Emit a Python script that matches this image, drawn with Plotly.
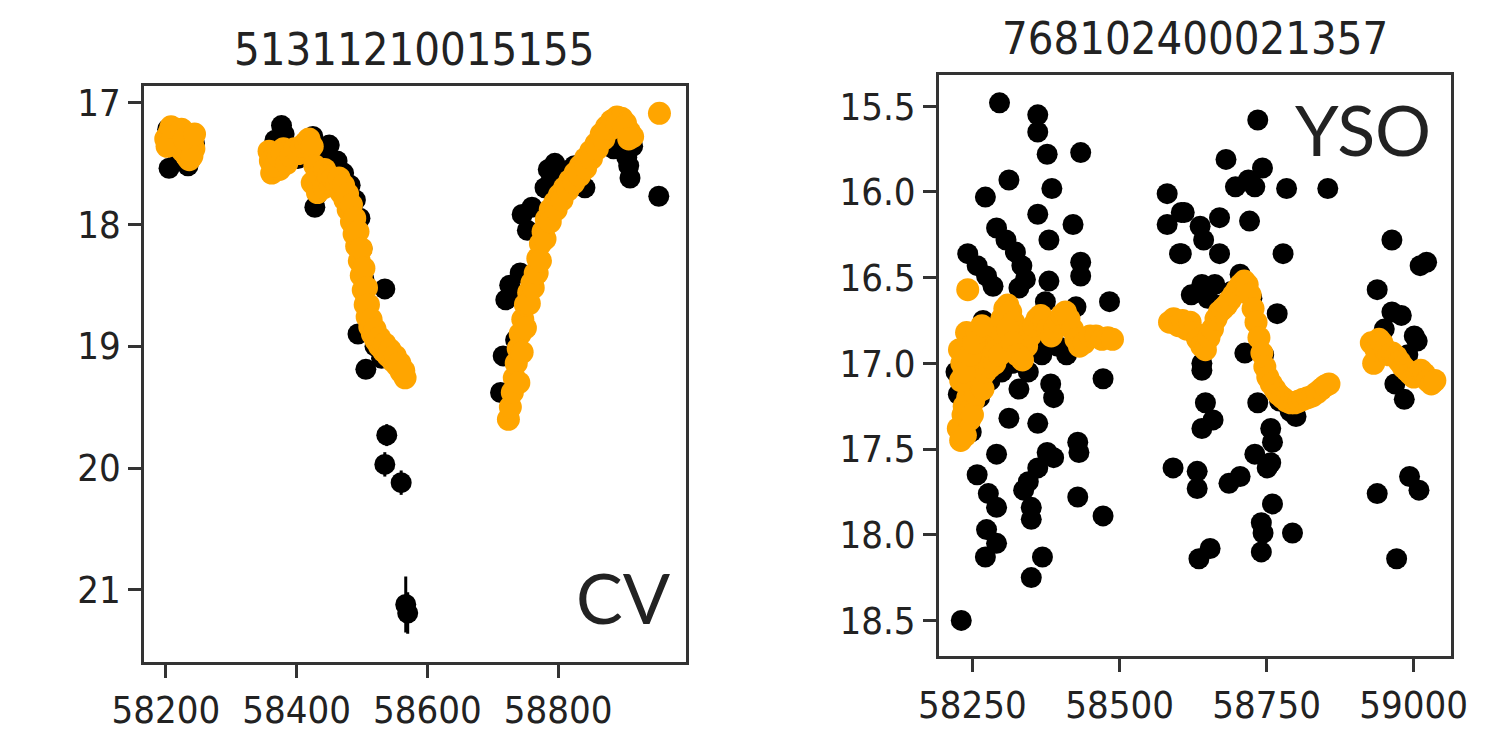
import plotly.graph_objects as go

# ---- CV light curve: 51311210015155 ----
cv_title = "51311210015155"
cv_label = "CV"

# ZTF-like photometry (mjd, mag, err)
cv_black = [
    (58203, 17.22, 0.03), (58205, 17.54, 0.03), (58210, 17.30, 0.03), (58216, 17.40, 0.03),
    (58222, 17.28, 0.03), (58228, 17.36, 0.03), (58234, 17.52, 0.03), (58240, 17.42, 0.03),
    (58244, 17.34, 0.03),
    (58362, 17.50, 0.03), (58367, 17.31, 0.03), (58372, 17.40, 0.03), (58377, 17.19, 0.03),
    (58381, 17.26, 0.03), (58388, 17.45, 0.03), (58395, 17.40, 0.03), (58402, 17.46, 0.03),
    (58410, 17.38, 0.03), (58418, 17.34, 0.03), (58425, 17.28, 0.03), (58428, 17.86, 0.04),
    (58432, 17.75, 0.04), (58438, 17.40, 0.03), (58450, 17.35, 0.03), (58462, 17.48, 0.03),
    (58472, 17.58, 0.03), (58482, 17.68, 0.04), (58490, 17.80, 0.04), (58497, 17.95, 0.04),
    (58500, 18.20, 0.05), (58503, 18.45, 0.05), (58494, 18.90, 0.06), (58506, 19.19, 0.07),
    (58512, 18.86, 0.06), (58520, 19.00, 0.06), (58535, 18.53, 0.05), (58530, 19.10, 0.07),
    (58538, 19.73, 0.09), (58535, 19.97, 0.10), (58560, 20.12, 0.10), (58567, 21.12, 0.23),
    (58570, 21.19, 0.17),
    (58712, 19.38, 0.07), (58716, 19.08, 0.06), (58720, 18.62, 0.05), (58726, 18.50, 0.05),
    (58729, 18.55, 0.05), (58735, 18.95, 0.06), (58742, 18.40, 0.05), (58745, 17.92, 0.04),
    (58753, 18.05, 0.04), (58760, 17.86, 0.04), (58780, 17.70, 0.04), (58785, 17.55, 0.04),
    (58790, 17.62, 0.04), (58795, 17.50, 0.04), (58812, 17.56, 0.04), (58825, 17.52, 0.04),
    (58841, 17.70, 0.04), (58850, 17.45, 0.03), (58865, 17.33, 0.03), (58878, 17.30, 0.03),
    (58885, 17.38, 0.03), (58895, 17.30, 0.03), (58905, 17.45, 0.03), (58908, 17.52, 0.03),
    (58910, 17.62, 0.03), (58914, 17.36, 0.03), (58954, 17.77, 0.04),
]

# second survey (mjd, mag)
cv_orange = [
    (58200, 17.30), (58205, 17.25), (58210, 17.35), (58214, 17.28), (58218, 17.22),
    (58222, 17.32), (58226, 17.40), (58230, 17.27), (58234, 17.36), (58238, 17.45),
    (58241, 17.30), (58243, 17.38), (58202, 17.36), (58208, 17.20), (58224, 17.22),
    (58232, 17.44), (58236, 17.47), (58240, 17.44), (58228, 17.30), (58244, 17.26),
    (58358, 17.40), (58362, 17.58), (58368, 17.42), (58374, 17.55), (58380, 17.38),
    (58384, 17.48),
    (58360, 17.48), (58366, 17.52), (58372, 17.44), (58378, 17.42), (58385, 17.50),
    (58391, 17.44), (58397, 17.38), (58403, 17.42), (58408, 17.36), (58414, 17.33),
    (58419, 17.30), (58424, 17.36), (58428, 17.52), (58432, 17.62), (58437, 17.58),
    (58424, 17.66), (58432, 17.74), (58442, 17.70), (58450, 17.66),
    (58443, 17.55), (58449, 17.60), (58455, 17.62), (58462, 17.68), (58468, 17.74),
    (58474, 17.80), (58479, 17.88), (58484, 17.98), (58488, 18.08), (58492, 18.18),
    (58496, 18.30), (58499, 18.42), (58502, 18.54), (58505, 18.66), (58508, 18.76),
    (58512, 18.84), (58516, 18.90), (58521, 18.95), (58527, 19.00), (58533, 19.04),
    (58540, 19.08), (58547, 19.12), (58554, 19.16), (58560, 19.21), (58566, 19.26),
    (58465, 17.62), (58472, 17.68), (58478, 17.75), (58484, 17.84), (58489, 17.95),
    (58494, 18.06), (58499, 18.20), (58503, 18.36), (58507, 18.52), (58510, 18.66),
    (58514, 18.78), (58520, 18.86), (58527, 18.93), (58535, 18.98), (58543, 19.03),
    (58551, 19.08), (58558, 19.14), (58564, 19.20),
    (58724, 19.60), (58727, 19.50), (58730, 19.38), (58733, 19.26), (58736, 19.14),
    (58739, 19.02), (58742, 18.90), (58746, 18.78), (58750, 18.66), (58755, 18.56),
    (58760, 18.48), (58765, 18.40), (58769, 18.28), (58773, 18.16), (58777, 18.06),
    (58782, 17.96), (58788, 17.88), (58795, 17.82), (58802, 17.76), (58810, 17.70),
    (58818, 17.64), (58826, 17.58), (58834, 17.52), (58842, 17.46), (58850, 17.40),
    (58858, 17.34), (58866, 17.26), (58874, 17.20), (58882, 17.15), (58890, 17.12),
    (58897, 17.13), (58903, 17.17), (58909, 17.24), (58914, 17.28), (58955, 17.09),
    (58740, 19.30), (58745, 19.05), (58750, 18.85), (58756, 18.65), (58762, 18.52),
    (58768, 18.40), (58773, 18.30), (58780, 18.12), (58788, 17.98), (58797, 17.88),
    (58806, 17.80), (58815, 17.72), (58824, 17.66), (58833, 17.60), (58842, 17.54),
    (58851, 17.46), (58860, 17.38), (58870, 17.30), (58880, 17.22), (58890, 17.18),
    (58900, 17.20), (58908, 17.30),
]

cv_xticks = [58200, 58400, 58600, 58800]
cv_yticks = [17, 18, 19, 20, 21]

# ---- YSO light curve: 768102400021357 ----
yso_title = "768102400021357"
yso_label = "YSO"

yso_black = [
    (58231, 18.50), (58242, 16.36), (58258, 16.43), (58274, 16.49), (58285, 16.55),
    (58268, 16.75), (58272, 16.03), (58291, 16.21), (58307, 16.28), (58323, 16.35),
    (58334, 16.43), (58340, 16.51), (58329, 16.56), (58296, 15.48), (58312, 15.93),
    (58361, 15.55), (58361, 15.65), (58377, 15.78), (58434, 15.77), (58385, 15.98),
    (58361, 16.13), (58421, 16.19), (58380, 16.28), (58434, 16.41), (58434, 16.49),
    (58380, 16.52), (58483, 16.64), (58374, 16.64), (58426, 16.67), (58472, 17.09),
    (58388, 17.20), (58383, 17.12), (58361, 17.35), (58429, 17.46), (58431, 17.52),
    (58377, 17.52), (58388, 17.55), (58361, 17.61), (58345, 17.69), (58337, 17.74),
    (58350, 17.84), (58350, 17.91), (58429, 17.78), (58472, 17.89), (58369, 18.13),
    (58350, 18.25), (58291, 17.53), (58258, 17.65), (58277, 17.76), (58291, 17.84),
    (58274, 17.97), (58291, 18.05), (58272, 18.13), (58312, 17.32), (58329, 17.15),
    (58250, 17.00), (58262, 17.20), (58280, 17.10), (58300, 17.05), (58318, 17.00),
    (58330, 16.95), (58345, 17.05), (58356, 16.90), (58368, 16.95), (58395, 16.90),
    (58410, 16.95), (58300, 16.85), (58240, 17.25), (58248, 17.40), (58222, 17.05),
    (58226, 17.18),
    (58581, 16.01), (58605, 16.12), (58581, 16.19), (58602, 16.36), (58591, 17.61),
    (58610, 16.12), (58637, 16.20), (58643, 16.28), (58670, 16.15), (58721, 16.17),
    (58605, 16.36), (58670, 16.36), (58778, 16.36), (58735, 15.58), (58681, 15.81),
    (58743, 15.86), (58697, 15.97), (58719, 15.93), (58730, 15.97), (58784, 15.98),
    (58854, 15.98), (58640, 16.54), (58662, 16.54), (58705, 16.48), (58768, 16.71),
    (58640, 17.00), (58713, 16.94), (58640, 17.04), (58646, 17.23), (58659, 17.33),
    (58640, 17.38), (58632, 17.63), (58632, 17.73), (58686, 17.70), (58705, 17.66),
    (58730, 17.53), (58751, 17.61), (58757, 17.38), (58760, 17.46), (58757, 17.58),
    (58760, 17.82), (58741, 17.93), (58744, 17.99), (58741, 18.10), (58794, 17.99),
    (58635, 18.14), (58654, 18.08), (58735, 17.23), (58800, 17.31), (58622, 16.60),
    (58650, 16.62), (58672, 16.66), (58690, 16.58), (58725, 16.62), (58745, 16.95),
    (58755, 17.10), (58772, 17.22), (58790, 17.28),
    (58963, 16.28), (59022, 16.41), (59011, 16.43), (58938, 16.57), (58963, 16.70),
    (58979, 16.72), (59001, 16.84), (58938, 17.76), (58993, 17.66), (59009, 17.74),
    (58971, 18.14), (58984, 17.21), (58968, 17.12), (59006, 16.87), (58950, 16.80),
    (58990, 16.95),
]

yso_orange = [
    (58226, 17.38), (58230, 17.45), (58234, 17.30), (58238, 17.42), (58242, 17.20),
    (58245, 17.33), (58248, 17.12), (58252, 17.22), (58255, 17.05), (58259, 17.15),
    (58262, 17.00), (58266, 17.08), (58270, 16.95), (58274, 17.02), (58278, 16.90),
    (58283, 16.98), (58287, 16.85), (58291, 16.92), (58295, 16.80), (58300, 16.74),
    (58305, 16.68), (58310, 16.66), (58315, 16.70), (58320, 16.76), (58325, 16.82),
    (58330, 16.88), (58336, 16.92), (58342, 16.90), (58348, 16.84), (58354, 16.78),
    (58360, 16.74), (58366, 16.72), (58372, 16.75), (58378, 16.80), (58384, 16.84),
    (58390, 16.80), (58396, 16.76), (58402, 16.72), (58408, 16.70), (58414, 16.74),
    (58420, 16.80), (58426, 16.86), (58432, 16.90), (58440, 16.88), (58450, 16.84),
    (58460, 16.84), (58470, 16.86), (58480, 16.85), (58488, 16.86), (58242, 16.57),
    (58240, 16.82), (58238, 16.92), (58232, 17.00),
    (58236, 17.25), (58244, 17.28), (58250, 17.30), (58256, 17.18), (58262, 17.12),
    (58268, 17.15), (58272, 17.05), (58280, 17.02), (58288, 17.00), (58296, 16.95),
    (58230, 17.10), (58236, 17.05), (58228, 16.92), (58246, 16.95), (58252, 16.88),
    (58258, 16.82), (58266, 16.78), (58310, 16.80), (58318, 16.88), (58326, 16.95),
    (58335, 16.98),
    (58585, 16.76), (58592, 16.74), (58600, 16.78), (58607, 16.75), (58614, 16.80),
    (58620, 16.76), (58627, 16.82), (58633, 16.86), (58640, 16.90), (58646, 16.92),
    (58652, 16.85), (58658, 16.80), (58664, 16.74), (58670, 16.70), (58676, 16.68),
    (58682, 16.66), (58688, 16.63), (58694, 16.60), (58700, 16.57), (58706, 16.54),
    (58712, 16.52), (58717, 16.54), (58722, 16.60), (58727, 16.68), (58732, 16.76),
    (58737, 16.85), (58742, 16.94), (58747, 17.02), (58752, 17.08), (58758, 17.12),
    (58764, 17.15), (58770, 17.18), (58777, 17.20), (58784, 17.22), (58791, 17.23),
    (58798, 17.23), (58805, 17.22), (58812, 17.21), (58820, 17.20), (58828, 17.19),
    (58836, 17.17), (58843, 17.15), (58850, 17.13), (58856, 17.12),
    (58928, 16.88), (58932, 17.00), (58936, 16.92), (58941, 16.86), (58946, 16.88),
    (58952, 16.92), (58958, 16.95), (58964, 16.94), (58970, 16.96), (58976, 16.99),
    (58982, 17.02), (58988, 17.04), (58994, 17.06), (59000, 17.08), (59006, 17.06),
    (59012, 17.04), (59018, 17.06), (59024, 17.10), (59030, 17.12), (59036, 17.10),
]

yso_xticks = [58250, 58500, 58750, 59000]
yso_yticks = [15.5, 16.0, 16.5, 17.0, 17.5, 18.0, 18.5]

W, H = 1507, 732
TICK_FONT = dict(family="DejaVu Sans Condensed, DejaVu Sans", size=38, color="#222")
TITLE_FONT = dict(family="DejaVu Sans Condensed, DejaVu Sans", size=45, color="#222")
LABEL_FONT = dict(family="Lato, Open Sans, sans-serif", size=70, color="#222")
BLACK = "#000000"
ORANGE = "#FFA500"
MSIZE = 21


def cols(rows):
    return [list(c) for c in zip(*rows)]


fig = go.Figure()

bx, by, be = cols(cv_black)
ox, oy = cols(cv_orange)
fig.add_trace(go.Scatter(
    x=bx, y=by, mode="markers", xaxis="x", yaxis="y",
    marker=dict(size=MSIZE, color=BLACK, line=dict(width=0)),
    error_y=dict(type="data", array=be, color=BLACK, thickness=3, width=0),
))
fig.add_trace(go.Scatter(
    x=ox, y=oy, mode="markers", xaxis="x", yaxis="y",
    marker=dict(size=MSIZE + 2, color=ORANGE, line=dict(width=0)),
))

bx2, by2 = cols(yso_black)
ox2, oy2 = cols(yso_orange)
fig.add_trace(go.Scatter(
    x=bx2, y=by2, mode="markers", xaxis="x2", yaxis="y2",
    marker=dict(size=MSIZE, color=BLACK, line=dict(width=0)),
))
fig.add_trace(go.Scatter(
    x=ox2, y=oy2, mode="markers", xaxis="x2", yaxis="y2",
    marker=dict(size=MSIZE + 2, color=ORANGE, line=dict(width=0)),
))


def axis_style(**kw):
    base = dict(
        showgrid=False, zeroline=False, showline=True, mirror=True,
        linecolor="#333", linewidth=2.5,
        ticks="outside", ticklen=13, tickwidth=2.5, tickcolor="#333",
        tickfont=TICK_FONT,
    )
    base.update(kw)
    return base


def px_x(p):
    return p / W


def px_y(p):
    return 1 - p / H


fig.update_layout(
    width=W, height=H,
    margin=dict(l=0, r=0, t=0, b=0),
    paper_bgcolor="white", plot_bgcolor="white",
    showlegend=False,
    xaxis=axis_style(domain=[px_x(115), px_x(675)], range=[58167, 58995],
                     tickvals=cv_xticks, ticktext=[str(v) for v in cv_xticks],
                     anchor="y"),
    yaxis=axis_style(domain=[px_y(671.5), px_y(83)], range=[21.59, 16.867],
                     tickvals=cv_yticks, ticktext=[str(v) for v in cv_yticks],
                     anchor="x"),
    xaxis2=axis_style(domain=[px_x(937), px_x(1467)], range=[58193, 59064],
                      tickvals=yso_xticks, ticktext=[str(v) for v in yso_xticks],
                      anchor="y2"),
    yaxis2=axis_style(domain=[px_y(666), px_y(72)], range=[18.71, 15.32],
                      tickvals=yso_yticks, ticktext=[f"{v:.1f}" for v in yso_yticks],
                      anchor="x2"),
)

fig.add_annotation(text=cv_title, xref="paper", yref="paper",
                   x=px_x(395), y=px_y(45), showarrow=False, font=TITLE_FONT,
                   xanchor="center", yanchor="middle")
fig.add_annotation(text=yso_title, xref="paper", yref="paper",
                   x=px_x(1202), y=px_y(34), showarrow=False, font=TITLE_FONT,
                   xanchor="center", yanchor="middle")
fig.add_annotation(text=cv_label, xref="paper", yref="paper",
                   x=px_x(611), y=px_y(605), showarrow=False, font=LABEL_FONT,
                   xanchor="center", yanchor="middle")
fig.add_annotation(text=yso_label, xref="paper", yref="paper",
                   x=px_x(1376), y=px_y(127), showarrow=False, font=LABEL_FONT,
                   xanchor="center", yanchor="middle")

fig.write_html("out.html")
